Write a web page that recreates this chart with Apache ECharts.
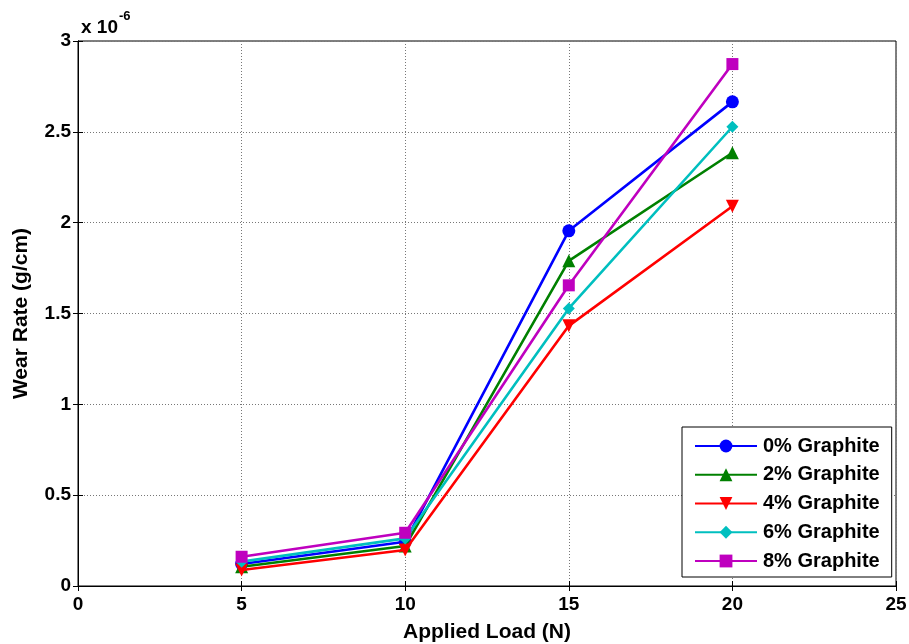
<!DOCTYPE html>
<html>
<head>
<meta charset="utf-8">
<script src="https://cdn.jsdelivr.net/npm/echarts@6/dist/echarts.min.js"></script>
<style>html,body{margin:0;padding:0;background:#fff}#c{width:909px;height:644px}</style>
</head>
<body>
<div id="c"></div>
<script>
var loads = [5, 10, 15, 20];
var seriesNames = ['0% Graphite', '2% Graphite', '4% Graphite', '6% Graphite', '8% Graphite'];
var g0 = [0.121, 0.244, 1.955, 2.665];
var g2 = [0.106, 0.220, 1.790, 2.385];
var g4 = [0.088, 0.198, 1.432, 2.090];
var g6 = [0.134, 0.262, 1.528, 2.528];
var g8 = [0.161, 0.293, 1.655, 2.873];
var yTicks = ['0', '0.5', '1', '1.5', '2', '2.5', '3'];
var xTicks = ['0', '5', '10', '15', '20', '25'];

var colors = ['#0000FF', '#008000', '#FF0000', '#00BFBF', '#BF00BF'];
var symbols = ['circle', 'triangle', 'path://M0,0 L2,0 L1,1.8 Z', 'diamond', 'rect'];
var sizes = [13, 13, 13, 12, 12];
var values = [g0, g2, g4, g6, g8];
var font = 'Liberation Sans, Arial, sans-serif';

function pairs(v) { return loads.map(function (x, i) { return [x, v[i]]; }); }

var series = seriesNames.map(function (n, k) {
  return {
    name: n, type: 'line', data: pairs(values[k]),
    xAxisIndex: 0, yAxisIndex: 0,
    symbol: symbols[k], symbolSize: sizes[k], showAllSymbol: true,
    lineStyle: { color: colors[k], width: 2.6 },
    itemStyle: { color: colors[k] },
    emphasis: { disabled: true }, animation: false, z: 3 + k
  };
});

var chart = echarts.init(document.getElementById('c'));
chart.setOption({
  animation: false,
  title: {
    text: '{a|x 10}{b|-6}', left: 76, top: 5,
    textStyle: { rich: {
      a: { fontFamily: font, fontWeight: 'bold', fontSize: 19, color: '#000', padding: [8, 0, 0, 0] },
      b: { fontFamily: font, fontWeight: 'bold', fontSize: 13, color: '#000', verticalAlign: 'top', padding: [0, 0, 10, 1] }
    } }
  },
  grid: { left: 78, right: 13, top: 41, bottom: 58, outerBoundsMode: 'none', containLabel: false,
    show: true, borderColor: '#000', borderWidth: 1, backgroundColor: '#fff' },
  legend: {
    data: seriesNames, orient: 'vertical', left: 682, top: 427,
    width: 190,
    itemWidth: 62, itemHeight: 16, itemGap: 8.75,
    padding: [9, 12, 6, 12],
    borderColor: '#000', borderWidth: 1, backgroundColor: '#fff',
    textStyle: { fontFamily: font, fontWeight: 'bold', fontSize: 20, color: '#000', padding: [0, 0, 0, 1] },
    z: 20
  },
  xAxis: [{
    type: 'value', min: 0, max: 25, interval: 5,
    name: 'Applied Load (N)', nameLocation: 'middle', nameGap: 36,
    nameTextStyle: { fontFamily: font, fontWeight: 'bold', fontSize: 21, color: '#000' },
    axisLine: { show: true, onZero: false, lineStyle: { color: '#000', width: 1 } },
    axisTick: { show: true, inside: true, length: 5, lineStyle: { color: '#000' } },
    axisLabel: { fontFamily: font, fontWeight: 'bold', fontSize: 19, color: '#000', margin: 9,
      formatter: function (v) { return xTicks[Math.round(v / 5)]; } },
    splitLine: { show: true, lineStyle: { color: '#777', type: [1, 2], width: 1 } }
  }, {
    type: 'value', min: 0, max: 25, interval: 5, position: 'top',
    axisLine: { show: true, lineStyle: { color: '#000' } },
    axisTick: { show: true, inside: true, length: 5, lineStyle: { color: '#000' } },
    axisLabel: { show: false }, splitLine: { show: false }
  }],
  yAxis: [{
    type: 'value', min: 0, max: 3, interval: 0.5,
    name: 'Wear Rate (g/cm)', nameLocation: 'middle', nameGap: 46,
    nameTextStyle: { fontFamily: font, fontWeight: 'bold', fontSize: 21, color: '#000' },
    axisLine: { show: true, onZero: false, lineStyle: { color: '#000', width: 1 } },
    axisTick: { show: true, inside: true, length: 5, lineStyle: { color: '#000' } },
    axisLabel: { fontFamily: font, fontWeight: 'bold', fontSize: 19, color: '#000', margin: 7,
      formatter: function (v) { return yTicks[Math.round(v / 0.5)]; } },
    splitLine: { show: true, lineStyle: { color: '#777', type: [1, 2], width: 1 } }
  }, {
    type: 'value', min: 0, max: 3, interval: 0.5, position: 'right',
    axisLine: { show: true, lineStyle: { color: '#000' } },
    axisTick: { show: true, inside: true, length: 5, lineStyle: { color: '#000' } },
    axisLabel: { show: false }, splitLine: { show: false }
  }],
  series: series
});
</script>
</body>
</html>
